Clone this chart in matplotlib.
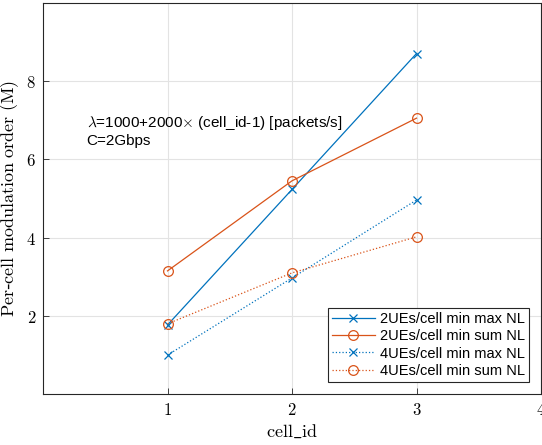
import matplotlib
matplotlib.use('Agg')  # noqa
import matplotlib.pyplot as plt

plt.rcParams['mathtext.fontset'] = 'cm'

cell_id = [1, 2, 3]
ue2_max = [1.77, 5.23, 8.70]
ue2_sum = [3.15, 5.45, 7.05]
ue4_max = [1.00, 2.97, 4.96]
ue4_sum = [1.80, 3.10, 4.02]

labels = ['2UEs/cell min max NL', '2UEs/cell min sum NL',
          '4UEs/cell min max NL', '4UEs/cell min sum NL']
xticks = [1, 2, 3, 4]
yticks = [2, 4, 6, 8]

blue = '#0072BD'
orange = '#D95319'

fig = plt.figure(figsize=(5.42, 4.45), dpi=100)
ax = fig.add_axes([43 / 542, 1 - 394.3 / 445, 498 / 542, 391.7 / 445])

ax.plot(cell_id, ue2_max, '-x', color=blue, lw=0.9, ms=6, mew=0.9, label=labels[0])
ax.plot(cell_id, ue2_sum, '-o', color=orange, lw=0.9, ms=7, mew=0.9,
        mfc='none', label=labels[1])
ax.plot(cell_id, ue4_max, ':x', color=blue, lw=0.9, ms=6, mew=0.9, label=labels[2])
ax.plot(cell_id, ue4_sum, ':o', color=orange, lw=0.9, ms=7, mew=0.9,
        mfc='none', label=labels[3])

ax.set_xlim(0, 4)
ax.set_ylim(0, 10)
ax.set_xticks(xticks)
ax.set_xticklabels(['$%d$' % t for t in xticks], fontsize=12)
ax.set_yticks(yticks)
ax.set_yticklabels(['$%d$' % t for t in yticks], fontsize=12)
ax.tick_params(direction='in', length=4, width=0.6, color='#262626', pad=5)
ax.grid(True, color='#e3e3e3', lw=0.8)
ax.set_axisbelow(True)
for s in ax.spines.values():
    s.set_linewidth(0.8)
    s.set_color('#262626')

ax.set_xlabel(r'$\mathrm{cell\_id}$', fontsize=13)
ax.xaxis.set_label_coords(0.5, -0.072)
ax.set_ylabel(r'$\mathrm{Per}$-$\mathrm{cell\ modulation\ order\ (M)}$', fontsize=13)
ax.yaxis.set_label_coords(-0.044, 0.5)

ax.text(0.35, 6.73, '$\\lambda$=1000+2000$\\times$ (cell_id-1) [packets/s]\nC=2Gbps',
        family='Liberation Sans', fontsize=11, va='center', ha='left',
        linespacing=1.2)

leg = ax.legend(loc='lower right', prop={'family': 'Liberation Sans', 'size': 10.5},
                fancybox=False, edgecolor='#262626', framealpha=1,
                borderpad=0.3, labelspacing=0.22, handlelength=2.9,
                handletextpad=0.35, borderaxespad=0,
                bbox_to_anchor=(0.976, 0.031))
leg.get_frame().set_linewidth(0.8)

fig.savefig('out.png', dpi=100)
